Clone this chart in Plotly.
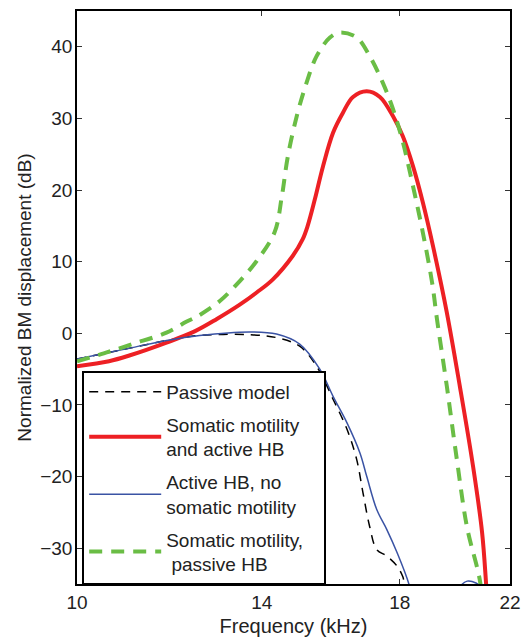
import plotly.graph_objects as go

# ---- data (frequency in kHz, normalized BM displacement in dB) ----
red_f = [10.0, 10.6, 11.0, 11.77, 12.4, 12.9, 13.45, 13.87, 14.28, 14.81, 15.08, 15.22, 15.42,
         15.65, 15.94, 16.23, 16.53, 16.95, 17.36, 17.78, 18.10, 18.44, 18.77, 19.12, 19.61,
         20.08, 20.57, 20.91, 21.06, 21.15]
red_db = [-4.6, -3.9, -3.1, -1.3, 0.3, 2.0, 4.0, 5.7, 7.5, 10.8, 13.1, 15.0, 18.7,
          23.3, 28.0, 30.8, 33.0, 33.8, 33.0, 30.3, 27.5, 23.3, 18.3, 12.2, 2.9,
          -7.4, -18.6, -27.8, -34.8, -40.0]

green_f = [10.0, 10.5, 11.06, 11.77, 12.2, 12.46, 12.97, 13.45, 13.87, 14.33, 14.52, 14.68,
           14.92, 15.19, 15.47, 15.85, 16.14, 16.64, 17.04, 17.45, 17.78, 18.10, 18.44, 18.77,
           19.09, 19.26, 19.61, 19.97, 20.34, 20.84, 20.95]
green_db = [-3.9, -2.8, -1.5, 0.1, 1.6, 2.4, 4.5, 7.3, 10.1, 14.1, 19.1, 24.7,
            30.3, 35.0, 38.7, 41.3, 42.0, 41.3, 38.7, 35.0, 31.3, 26.7, 20.5, 14.1,
            7.1, 2.0, -7.4, -17.6, -27.0, -34.8, -40.0]

blue_f = [10.0, 11.06, 11.77, 12.5, 13.7, 14.38, 15.0, 15.56, 15.94, 16.35, 16.74, 16.95,
          17.26, 17.58, 17.91, 18.30, 18.45, 19.2, 19.9, 20.1, 20.35, 20.7, 20.95, 21.3]
blue_db = [-3.6, -2.0, -1.0, -0.3, 0.2, -0.1, -1.5, -5.0, -8.8, -12.5, -16.7, -20.0,
           -24.6, -27.4, -30.6, -35.0, -38.0, -45.0, -37.0, -35.3, -34.6, -34.9, -35.6, -40.0]

black_f = [10.0, 11.06, 11.77, 12.5, 13.7, 14.38, 15.0, 15.47, 15.94, 16.35, 16.64, 16.83,
           17.04, 17.26, 17.58, 17.91, 18.10, 18.2, 18.6, 19.3, 19.6, 19.9, 20.3]
black_db = [-3.6, -2.0, -1.0, -0.3, -0.2, -0.6, -1.8, -4.6, -9.2, -13.4, -17.6, -22.2,
            -27.0, -30.2, -31.1, -32.5, -34.0, -35.5, -36.5, -35.2, -35.1, -36.0, -40.0]

names = ["Passive model", "Somatic motility<br>and active HB",
         "Active HB, no<br>somatic motility", "Somatic motility,&nbsp;&nbsp;&nbsp;<br> passive HB"]

x_ticks = [10, 14, 18, 22]
y_ticks = [-30, -20, -10, 0, 10, 20, 30, 40]

FONT = "Liberation Sans, Arial, Helvetica, sans-serif"

fig = go.Figure()
fig.add_trace(go.Scatter(x=black_f, y=black_db, mode="lines", name=names[0], legendgroup="a",
                         line=dict(color="#000000", width=1.5, dash="9px,7px", shape="spline")))
fig.add_trace(go.Scatter(x=red_f, y=red_db, mode="lines", name=names[1], legendgroup="b",
                         line=dict(color="#ED2024", width=4, shape="spline")))
fig.add_trace(go.Scatter(x=blue_f, y=blue_db, mode="lines", name=names[2], legendgroup="c",
                         line=dict(color="#3A53A4", width=1.5, shape="spline")))
fig.add_trace(go.Scatter(x=green_f, y=green_db, mode="lines", name=names[3], legendgroup="d",
                         line=dict(color="#6ABD45", width=4, dash="13px,9px", shape="spline")))

axis_common = dict(showline=True, linewidth=1.5, linecolor="black", mirror="ticks",
                   ticks="inside", ticklen=5, tickwidth=1, tickcolor="#333",
                   showgrid=False, zeroline=False, automargin=False,
                   tickfont=dict(family=FONT, size=19, color="#222"))

fig.update_xaxes(type="log", range=[1, 1.342423], tickvals=x_ticks,
                 ticktext=[str(v) for v in x_ticks],
                 title=dict(text="Frequency (kHz)", font=dict(family=FONT, size=20, color="#222"),
                            standoff=9),
                 **axis_common)
fig.update_yaxes(range=[-35, 45], tickvals=y_ticks, ticklabelstandoff=-1,
                 title=dict(text="Normalized BM displacement (dB)",
                            font=dict(family=FONT, size=19, color="#222"), standoff=4),
                 **axis_common)

fig.update_layout(
    width=528, height=637,
    margin=dict(l=77, r=18, t=11, b=53),
    plot_bgcolor="white", paper_bgcolor="white",
    font=dict(family=FONT, size=19, color="#222"),
    legend=dict(x=0.012, y=0.372, xanchor="left", yanchor="top",
                bgcolor="white", bordercolor="black", borderwidth=2,
                font=dict(family=FONT, size=19, color="#222"),
                itemwidth=72, tracegroupgap=5),
    showlegend=True,
)

fig.write_html("out.html")
